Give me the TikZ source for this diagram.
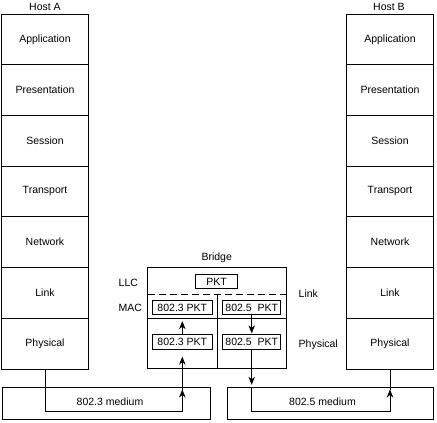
\documentclass[tikz,border=0pt]{standalone}
\usepackage{fontspec}
\setmainfont{Liberation Sans}
\usetikzlibrary{arrows.meta}

\begin{document}
\begin{tikzpicture}[x=1pt,y=-1pt,line width=0.8pt,font=\fontsize{10.5}{12}\selectfont,
	layer_node/.style={rectangle,draw,minimum width=86.5pt,minimum height=50.7pt,inner sep=0pt},
	pkt_node/.style={rectangle,draw,minimum height=14.5pt,inner sep=0pt},
	medium_node/.style={rectangle,draw,minimum height=32pt,inner sep=0pt},
	flow/.style={-{Stealth[length=8pt,width=6.5pt,inset=2.5pt]}}]

		\useasboundingbox (0,0) rectangle (437,423);

		% Host A
		\node at (45,7) {Host A};
		\node[layer_node] (a1) at (45,39.35) {Application};
		\node[layer_node] (a2) at (45,90.05) {Presentation};
		\node[layer_node] (a3) at (45,140.75) {Session};
		\node[layer_node] (a4) at (45,191.45) {Transport};
		\node[layer_node] (a5) at (45,242.15) {Network};
		\node[layer_node] (a6) at (45,292.85) {Link};
		\node[layer_node] (a7) at (45,343.55) {Physical};

		% Host B
		\node at (389,7) {Host B};
		\node[layer_node] (b1) at (390,39.35) {Application};
		\node[layer_node] (b2) at (390,90.05) {Presentation};
		\node[layer_node] (b3) at (390,140.75) {Session};
		\node[layer_node] (b4) at (390,191.45) {Transport};
		\node[layer_node] (b5) at (390,242.15) {Network};
		\node[layer_node] (b6) at (390,292.85) {Link};
		\node[layer_node] (b7) at (390,343.55) {Physical};

		% Bridge
		\node at (216.7,258) {Bridge};
		\node[rectangle,draw,minimum width=139.2pt,minimum height=101pt,inner sep=0pt] (bridge) at (217.1,318) {};
		\coordinate (llc_l) at (147.5,294.3);
		\coordinate (llc_r) at (286.7,294.3);
		\coordinate (mac_l) at (147.5,318);
		\coordinate (mac_r) at (286.7,318);
		\coordinate (div_t) at (217.3,294.3);
		\coordinate (div_b) at (217.3,368.5);
		\draw[dash pattern=on 7pt off 4pt] (llc_l) -- (llc_r);
		\draw (mac_l) -- (mac_r);
		\draw (div_t) -- (div_b);

		\node[pkt_node,minimum width=42pt] (pkt) at (216.7,281.5) {PKT};
		\node[pkt_node,minimum width=60pt] (u3) at (182.3,307.5) {802.3 PKT};
		\node[pkt_node,minimum width=58pt] (u5) at (251.7,307.5) {802.5\ \ PKT};
		\node[pkt_node,minimum width=60pt] (l3) at (182.3,342) {802.3 PKT};
		\node[pkt_node,minimum width=58pt] (l5) at (251.7,342) {802.5\ \ PKT};

		\node[anchor=west] at (115,283.3) {LLC};
		\node[anchor=west] at (115,307.5) {MAC};
		\node[anchor=west] at (295,293.3) {Link};
		\node[anchor=west] at (295,345) {Physical};

		% media
		\node[medium_node,minimum width=208pt] (m3) at (106,403.3) {};
		\node[medium_node,minimum width=205.5pt] (m5) at (330.5,403.3) {};
		\node at (110,401.7) {802.3 medium};
		\node at (322.5,401.7) {802.5 medium};

		% frame path A -> bridge
		\coordinate (c_l1) at (182.3,411.7);
		\coordinate (c_l2) at (182.3,389.5);
		\draw[flow] (a7.south) |- (c_l1) -- (c_l2);
		\draw[flow,shorten >=7pt] (c_l2) -- (l3.south);
		\draw[flow,shorten >=6pt] (l3.north) -- (u3.south);

		% frame path bridge -> B
		\coordinate (c_r1) at (251.7,387.3);
		\coordinate (c_r2) at (390,411.7);
		\coordinate (c_r3) at (390,389.5);
		\draw[flow,shorten >=1pt] (u5.south) -- (l5.north);
		\draw[flow,shorten >=2.5pt] (l5.south) -- (c_r1);
		\draw[flow] (c_r1) |- (c_r2) -- (c_r3);
		\draw (c_r3) -- (b7.south);
\end{tikzpicture}
\end{document}
